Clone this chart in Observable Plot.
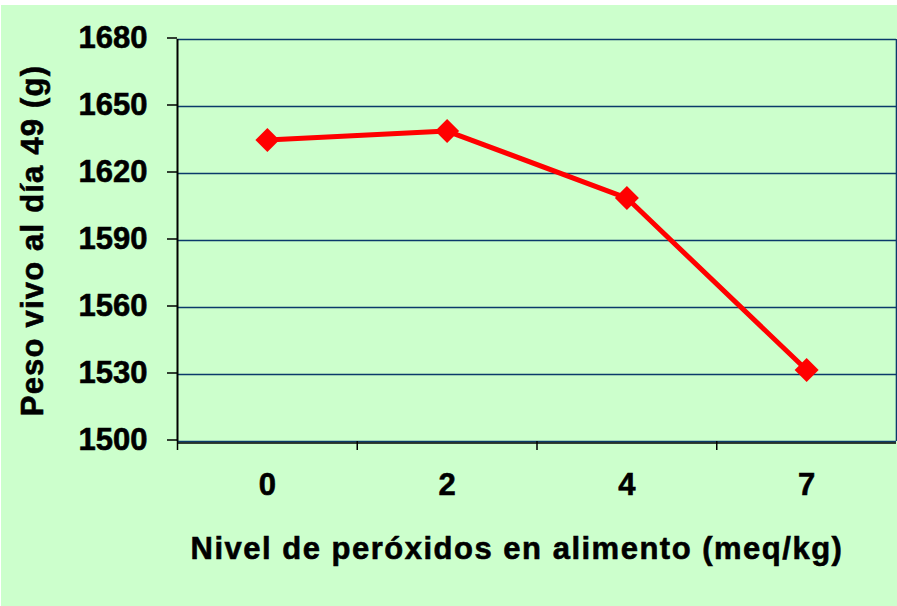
<!DOCTYPE html>
<html>
<head>
<meta charset="utf-8">
<script src="https://cdn.jsdelivr.net/npm/d3@7"></script>
<script src="https://cdn.jsdelivr.net/npm/@observablehq/plot@0.6"></script>
<style>
  html, body { margin: 0; padding: 0; background: #ffffff; }
  #chart { position: absolute; left: 1px; top: 5px; }
  #chart svg text { stroke: #000000; stroke-width: 0.6px; }
</style>
</head>
<body>
<div id="chart"></div>
<script>
const niveles = ["0", "2", "4", "7"];
const peso = [1635, 1639, 1609, 1532];
const yTicks = [1500, 1530, 1560, 1590, 1620, 1650, 1680];
const yTitle = "Peso vivo al día 49 (g)";
const xTitle = "Nivel de peróxidos en alimento (meq/kg)";

const data = niveles.map((n, i) => ({ i, nivel: n, peso: peso[i] }));
const bounds = d3.range(-0.5, niveles.length - 1, 1); // category boundaries

const navy = "#0a3a6a";
const font = "'Liberation Sans', Arial, sans-serif";

const chart = Plot.plot({
  width: 896,
  height: 601,
  marginLeft: 176,
  marginRight: 1,
  marginTop: 34,
  marginBottom: 165,
  style: {
    background: "#CCFFCC",
    fontFamily: font,
    fontSize: "31px",
    fontWeight: "bold",
    color: "black",
    overflow: "visible"
  },
  x: { domain: [-0.5, niveles.length - 0.5], axis: null, label: null },
  y: { domain: [1500, 1680], axis: null, label: null },
  marks: [
    Plot.gridY(yTicks, { stroke: navy, strokeOpacity: 1, strokeWidth: 1.6 }),
    Plot.ruleX([niveles.length - 0.5], { stroke: navy, strokeWidth: 1.6 }),
    Plot.ruleY([1500], { stroke: "black", strokeWidth: 1.5, dy: 1.5 }),
    Plot.ruleX([-0.5], { stroke: "black", strokeWidth: 2 }),
    Plot.axisY({
      ticks: yTicks,
      label: null,
      tickSize: 10,
      tickPadding: 20,
      tickFormat: d => String(d),
      stroke: "black",
      strokeWidth: 1.5,
      fill: "black",
      fontSize: 31,
      fontWeight: "bold",
      dy: -1.5
    }),
    Plot.axisX({
      ticks: bounds,
      label: null,
      tickSize: 9,
      tickFormat: () => "",
      stroke: "black",
      strokeWidth: 1.5
    }),
    Plot.axisX({
      ticks: d3.range(niveles.length),
      label: null,
      tickSize: 0,
      tickPadding: 31,
      tickFormat: i => niveles[i],
      fill: "black",
      fontSize: 31,
      fontWeight: "bold"
    }),
    Plot.line(data, { x: "i", y: "peso", stroke: "#FF0000", strokeWidth: 5 }),
    Plot.dot(data, { x: "i", y: "peso", symbol: "diamond2", r: 10.8, fill: "#FF0000", stroke: "none" }),
    Plot.text([yTitle], {
      text: d => d,
      frameAnchor: "left",
      rotate: -90,
      dx: -144,
      lineAnchor: "middle",
      textAnchor: "middle",
      fontSize: 31,
      fontWeight: "bold",
      fill: "black"
    }),
    Plot.text([xTitle], {
      text: d => d,
      frameAnchor: "bottom",
      dx: -20,
      dy: 108,
      lineAnchor: "middle",
      textAnchor: "middle",
      fontSize: 31,
      fontWeight: "bold",
      fill: "black"
    })
  ]
});

// letter spacing for the axis titles
d3.select(chart).selectAll("text").each(function () {
  const t = this.textContent;
  if (t === yTitle) d3.select(this).attr("letter-spacing", "1.2px");
  if (t === xTitle) d3.select(this).attr("letter-spacing", "1.5px");
});

document.getElementById("chart").appendChild(chart);
</script>
</body>
</html>
